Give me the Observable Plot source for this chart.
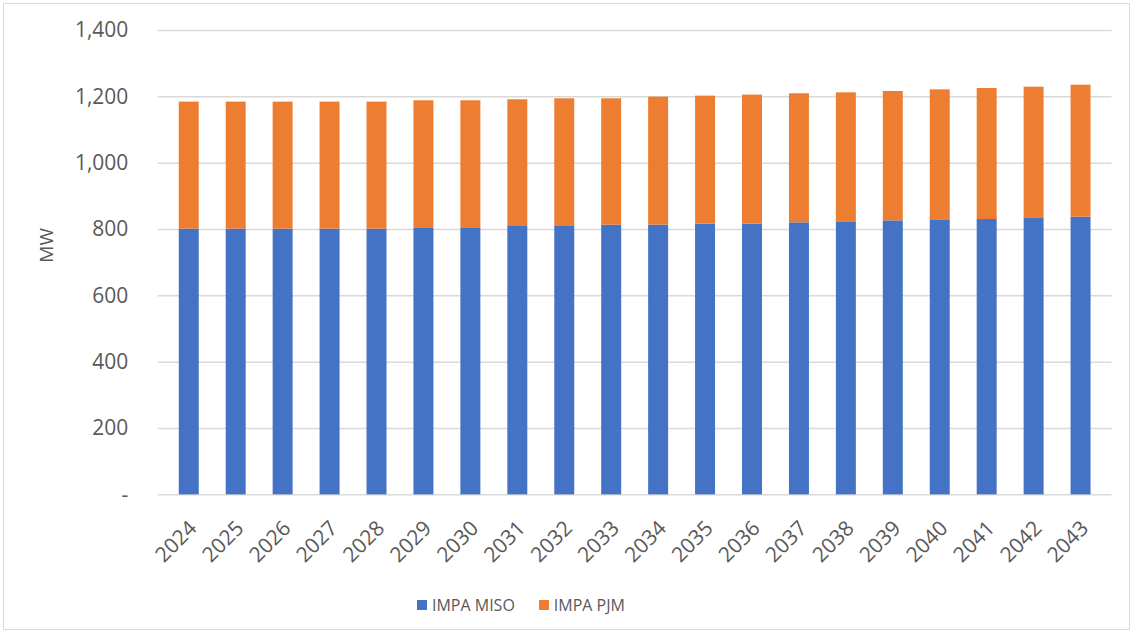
<!DOCTYPE html>
<html>
<head>
<meta charset="utf-8">
<script src="https://cdn.jsdelivr.net/npm/d3@7"></script>
<script src="https://cdn.jsdelivr.net/npm/@observablehq/plot@0.6"></script>
<style>
  html, body { margin: 0; padding: 0; background: #fff; }
  #frame {
    position: absolute; left: 3px; top: 3px; width: 1125px; height: 625px;
    border: 1.5px solid #d9d9d9; background: #fff; overflow: hidden;
  }
  #chart { position: absolute; left: -4.5px; top: -4.5px; }
  #legend {
    position: absolute; left: 413px; top: 590px;
    font-family: "Open Sans", sans-serif; font-size: 16px; color: #595959;
    display: flex; align-items: center; gap: 24px;
  }
  #legend .item { display: flex; align-items: center; gap: 5px; }
  #legend .sw { width: 10px; height: 10px; display: inline-block; }
</style>
</head>
<body>
<div id="frame">
  <div id="chart"></div>
  <div id="legend"></div>
</div>
<script>
// Annual capacity by market, MW
const years = ["2024","2025","2026","2027","2028","2029","2030","2031","2032","2033",
               "2034","2035","2036","2037","2038","2039","2040","2041","2042","2043"];
const impaMiso = [801,801,801,801,801,805,805,809,809,813,813,816,816,820,823,826,829,830,833,837];
const impaPjm  = [383,383,383,383,383,383,383,382,385,381,386,386,389,389,389,390,392,395,396,398];
const seriesNames = ["IMPA MISO", "IMPA PJM"];
const seriesColors = ["#4472c4", "#ed7d31"];
const yTicks = [0, 200, 400, 600, 800, 1000, 1200, 1400];

// long-format rows, MISO first so it sits at the bottom of each stack
const rows = [];
years.forEach((yr, i) => {
  rows.push({year: yr, series: seriesNames[0], mw: impaMiso[i]});
  rows.push({year: yr, series: seriesNames[1], mw: impaPjm[i]});
});

const fmt = d3.format(",");

const chart = Plot.plot({
  width: 1131,
  height: 580,
  marginLeft: 158,
  marginRight: 18,
  marginTop: 30,
  marginBottom: 85,
  style: {fontFamily: "'Open Sans', sans-serif", fontSize: "21px", color: "#595959", background: "transparent"},
  x: {type: "band", domain: years, paddingInner: 0.58, paddingOuter: 0.29, label: null},
  y: {domain: [0, 1400], label: null},
  color: {domain: seriesNames, range: seriesColors},
  marks: [
    Plot.gridY(yTicks, {stroke: "#d9d9d9", strokeOpacity: 1, strokeWidth: 1.5}),
    Plot.barY(rows, {x: "year", y: "mw", fill: "series", order: seriesNames}),
    Plot.axisY(yTicks, {
      tickSize: 0, tickPadding: 30, tickFormat: d => d === 0 ? "-" : fmt(d),
      fill: "#595959", fontSize: 21, label: null
    }),
    Plot.axisX({
      tickSize: 0, tickPadding: 30, tickRotate: -45, dx: 4,
      fill: "#595959", fontSize: 21, label: null
    }),
    Plot.text(["MW"], {
      frameAnchor: "left", dx: -112, rotate: -90, fill: "#595959", fontSize: 19
    })
  ]
});
document.getElementById("chart").appendChild(chart);

const legend = document.getElementById("legend");
seriesNames.forEach((name, i) => {
  const item = document.createElement("span");
  item.className = "item";
  const sw = document.createElement("span");
  sw.className = "sw";
  sw.style.background = seriesColors[i];
  const label = document.createElement("span");
  label.textContent = name;
  item.appendChild(sw);
  item.appendChild(label);
  legend.appendChild(item);
});
</script>
</body>
</html>
